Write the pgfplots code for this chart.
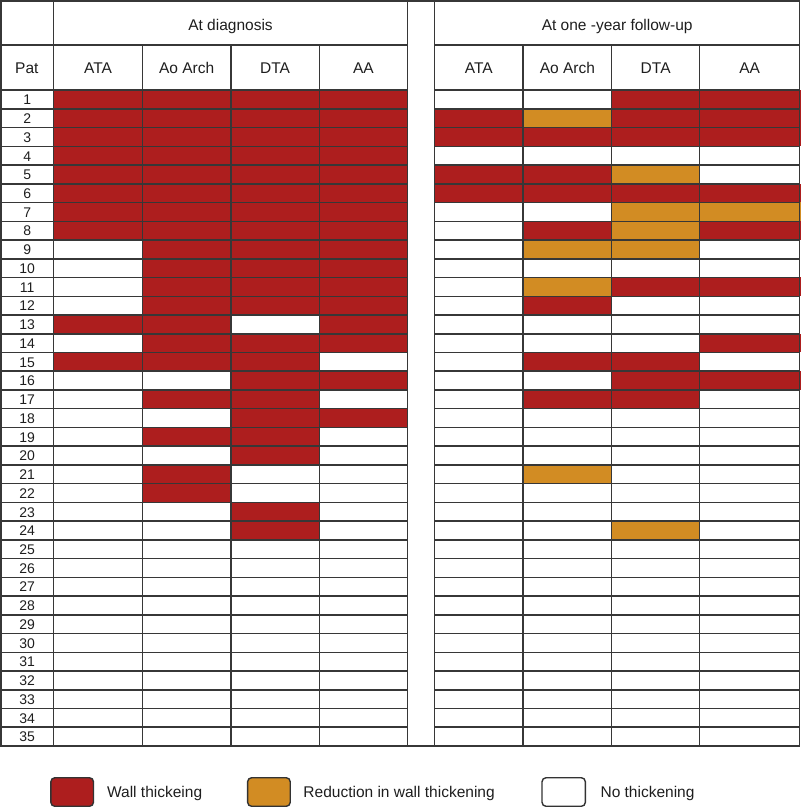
\documentclass[border=0pt]{standalone}
\usepackage{pgfplots}
\pgfplotsset{compat=1.18}
\usepackage{fontspec}
\setmainfont{Liberation Sans}
\definecolor{wallred}{RGB}{173,30,30}
\definecolor{reduc}{RGB}{210,140,35}
\definecolor{gridc}{RGB}{55,55,55}
\definecolor{txt}{RGB}{30,30,30}
\begin{document}
\begin{tikzpicture}
\begin{axis}[
  scale only axis, width=800pt, height=807pt,
  xmin=0, xmax=800, ymin=-4.805, ymax=38.28, y dir=reverse,
  hide axis, clip=false,
  colormap={tbl}{rgb255(0pt)=(255,255,255); rgb255(1pt)=(173,30,30); rgb255(2pt)=(210,140,35)},
  point meta min=0, point meta max=2,
]
% At diagnosis: lattice of cell corners; meta = state of the cell below/right (0 none, 1 wall thickening, 2 reduction)
\addplot[surf, shader=flat corner, mesh/cols=5, point meta=explicit] coordinates {
(53.3,0)[1] (142.3,0)[1] (230.7,0)[1] (319,0)[1] (407.3,0)[0]
(53.3,1)[1] (142.3,1)[1] (230.7,1)[1] (319,1)[1] (407.3,1)[0]
(53.3,2)[1] (142.3,2)[1] (230.7,2)[1] (319,2)[1] (407.3,2)[0]
(53.3,3)[1] (142.3,3)[1] (230.7,3)[1] (319,3)[1] (407.3,3)[0]
(53.3,4)[1] (142.3,4)[1] (230.7,4)[1] (319,4)[1] (407.3,4)[0]
(53.3,5)[1] (142.3,5)[1] (230.7,5)[1] (319,5)[1] (407.3,5)[0]
(53.3,6)[1] (142.3,6)[1] (230.7,6)[1] (319,6)[1] (407.3,6)[0]
(53.3,7)[1] (142.3,7)[1] (230.7,7)[1] (319,7)[1] (407.3,7)[0]
(53.3,8)[0] (142.3,8)[1] (230.7,8)[1] (319,8)[1] (407.3,8)[0]
(53.3,9)[0] (142.3,9)[1] (230.7,9)[1] (319,9)[1] (407.3,9)[0]
(53.3,10)[0] (142.3,10)[1] (230.7,10)[1] (319,10)[1] (407.3,10)[0]
(53.3,11)[0] (142.3,11)[1] (230.7,11)[1] (319,11)[1] (407.3,11)[0]
(53.3,12)[1] (142.3,12)[1] (230.7,12)[0] (319,12)[1] (407.3,12)[0]
(53.3,13)[0] (142.3,13)[1] (230.7,13)[1] (319,13)[1] (407.3,13)[0]
(53.3,14)[1] (142.3,14)[1] (230.7,14)[1] (319,14)[0] (407.3,14)[0]
(53.3,15)[0] (142.3,15)[0] (230.7,15)[1] (319,15)[1] (407.3,15)[0]
(53.3,16)[0] (142.3,16)[1] (230.7,16)[1] (319,16)[0] (407.3,16)[0]
(53.3,17)[0] (142.3,17)[0] (230.7,17)[1] (319,17)[1] (407.3,17)[0]
(53.3,18)[0] (142.3,18)[1] (230.7,18)[1] (319,18)[0] (407.3,18)[0]
(53.3,19)[0] (142.3,19)[0] (230.7,19)[1] (319,19)[0] (407.3,19)[0]
(53.3,20)[0] (142.3,20)[1] (230.7,20)[0] (319,20)[0] (407.3,20)[0]
(53.3,21)[0] (142.3,21)[1] (230.7,21)[0] (319,21)[0] (407.3,21)[0]
(53.3,22)[0] (142.3,22)[0] (230.7,22)[1] (319,22)[0] (407.3,22)[0]
(53.3,23)[0] (142.3,23)[0] (230.7,23)[1] (319,23)[0] (407.3,23)[0]
(53.3,24)[0] (142.3,24)[0] (230.7,24)[0] (319,24)[0] (407.3,24)[0]
};
% At one-year follow-up
\addplot[surf, shader=flat corner, mesh/cols=5, point meta=explicit] coordinates {
(434.3,0)[0] (522.7,0)[0] (611.3,0)[1] (699.3,0)[1] (799.3,0)[0]
(434.3,1)[1] (522.7,1)[2] (611.3,1)[1] (699.3,1)[1] (799.3,1)[0]
(434.3,2)[1] (522.7,2)[1] (611.3,2)[1] (699.3,2)[1] (799.3,2)[0]
(434.3,3)[0] (522.7,3)[0] (611.3,3)[0] (699.3,3)[0] (799.3,3)[0]
(434.3,4)[1] (522.7,4)[1] (611.3,4)[2] (699.3,4)[0] (799.3,4)[0]
(434.3,5)[1] (522.7,5)[1] (611.3,5)[1] (699.3,5)[1] (799.3,5)[0]
(434.3,6)[0] (522.7,6)[0] (611.3,6)[2] (699.3,6)[2] (799.3,6)[0]
(434.3,7)[0] (522.7,7)[1] (611.3,7)[2] (699.3,7)[1] (799.3,7)[0]
(434.3,8)[0] (522.7,8)[2] (611.3,8)[2] (699.3,8)[0] (799.3,8)[0]
(434.3,9)[0] (522.7,9)[0] (611.3,9)[0] (699.3,9)[0] (799.3,9)[0]
(434.3,10)[0] (522.7,10)[2] (611.3,10)[1] (699.3,10)[1] (799.3,10)[0]
(434.3,11)[0] (522.7,11)[1] (611.3,11)[0] (699.3,11)[0] (799.3,11)[0]
(434.3,12)[0] (522.7,12)[0] (611.3,12)[0] (699.3,12)[0] (799.3,12)[0]
(434.3,13)[0] (522.7,13)[0] (611.3,13)[0] (699.3,13)[1] (799.3,13)[0]
(434.3,14)[0] (522.7,14)[1] (611.3,14)[1] (699.3,14)[0] (799.3,14)[0]
(434.3,15)[0] (522.7,15)[0] (611.3,15)[1] (699.3,15)[1] (799.3,15)[0]
(434.3,16)[0] (522.7,16)[1] (611.3,16)[1] (699.3,16)[0] (799.3,16)[0]
(434.3,17)[0] (522.7,17)[0] (611.3,17)[0] (699.3,17)[0] (799.3,17)[0]
(434.3,18)[0] (522.7,18)[0] (611.3,18)[0] (699.3,18)[0] (799.3,18)[0]
(434.3,19)[0] (522.7,19)[0] (611.3,19)[0] (699.3,19)[0] (799.3,19)[0]
(434.3,20)[0] (522.7,20)[2] (611.3,20)[0] (699.3,20)[0] (799.3,20)[0]
(434.3,21)[0] (522.7,21)[0] (611.3,21)[0] (699.3,21)[0] (799.3,21)[0]
(434.3,22)[0] (522.7,22)[0] (611.3,22)[0] (699.3,22)[0] (799.3,22)[0]
(434.3,23)[0] (522.7,23)[0] (611.3,23)[2] (699.3,23)[0] (799.3,23)[0]
(434.3,24)[0] (522.7,24)[0] (611.3,24)[0] (699.3,24)[0] (799.3,24)[0]
};
% table rules
\pgfplotsinvokeforeach{0,...,34}{
  \draw[gridc, line width=1.5pt] (axis cs:0.6,#1) -- (axis cs:407.3,#1) (axis cs:434.3,#1) -- (axis cs:799.3,#1);
}
\draw[gridc, line width=1.5pt] (axis cs:0.6,-2.4026) -- (axis cs:407.3,-2.4026) (axis cs:434.3,-2.4026) -- (axis cs:799.3,-2.4026);
\draw[gridc, line width=1.5pt] (axis cs:0.75,-4.765) rectangle (axis cs:799.25,35);
\draw[gridc, line width=1.5pt] (axis cs:53.3,-4.773) -- (axis cs:53.3,35)
  (axis cs:407.3,-4.773) -- (axis cs:407.3,35) (axis cs:434.3,-4.773) -- (axis cs:434.3,35);
\draw[gridc, line width=1.5pt]
  (axis cs:142.3,-2.4026) -- (axis cs:142.3,35) (axis cs:230.7,-2.4026) -- (axis cs:230.7,35)
  (axis cs:319,-2.4026) -- (axis cs:319,35) (axis cs:522.7,-2.4026) -- (axis cs:522.7,35)
  (axis cs:611.3,-2.4026) -- (axis cs:611.3,35) (axis cs:699.3,-2.4026) -- (axis cs:699.3,35);
% headers
\begin{scope}[every node/.style={font=\fontsize{15.5}{18}\selectfont, text=txt, inner sep=0pt, anchor=base}]
\node at (axis cs:230.3,-3.2034) {At diagnosis};
\node at (axis cs:616.8,-3.2034) {At one -year follow-up};
\node at (axis cs:26.7,-0.8916) {Pat};
\node at (axis cs:97.8,-0.8916) {ATA};
\node at (axis cs:186.5,-0.8916) {Ao Arch};
\node at (axis cs:274.85,-0.8916) {DTA};
\node at (axis cs:363.15,-0.8916) {AA};
\node at (axis cs:478.5,-0.8916) {ATA};
\node at (axis cs:567,-0.8916) {Ao Arch};
\node at (axis cs:655.3,-0.8916) {DTA};
\node at (axis cs:749.3,-0.8916) {AA};
\end{scope}
\pgfplotsinvokeforeach{1,...,35}{
  \node[font=\fontsize{14}{16}\selectfont, text=txt, inner sep=0pt, anchor=base] at (axis cs:27,{#1-0.22}) {#1};
}
% legend
\draw[black!80, line width=1.4pt, fill=wallred, rounded corners=4pt] (axis cs:50.7,36.695) rectangle (axis cs:93.3,38.22);
\draw[black!80, line width=1.4pt, fill=reduc, rounded corners=4pt] (axis cs:247.4,36.695) rectangle (axis cs:290,38.22);
\draw[black!80, line width=1.4pt, fill=white, rounded corners=4pt] (axis cs:541.7,36.695) rectangle (axis cs:585,38.22);
\begin{scope}[every node/.style={font=\fontsize{15.5}{18}\selectfont, text=txt, inner sep=0pt, anchor=base west}]
\node at (axis cs:106.7,37.763) {Wall thickeing};
\node at (axis cs:303,37.763) {Reduction in wall thickening};
\node at (axis cs:600,37.763) {No thickening};
\end{scope}
\end{axis}
\end{tikzpicture}
\end{document}
